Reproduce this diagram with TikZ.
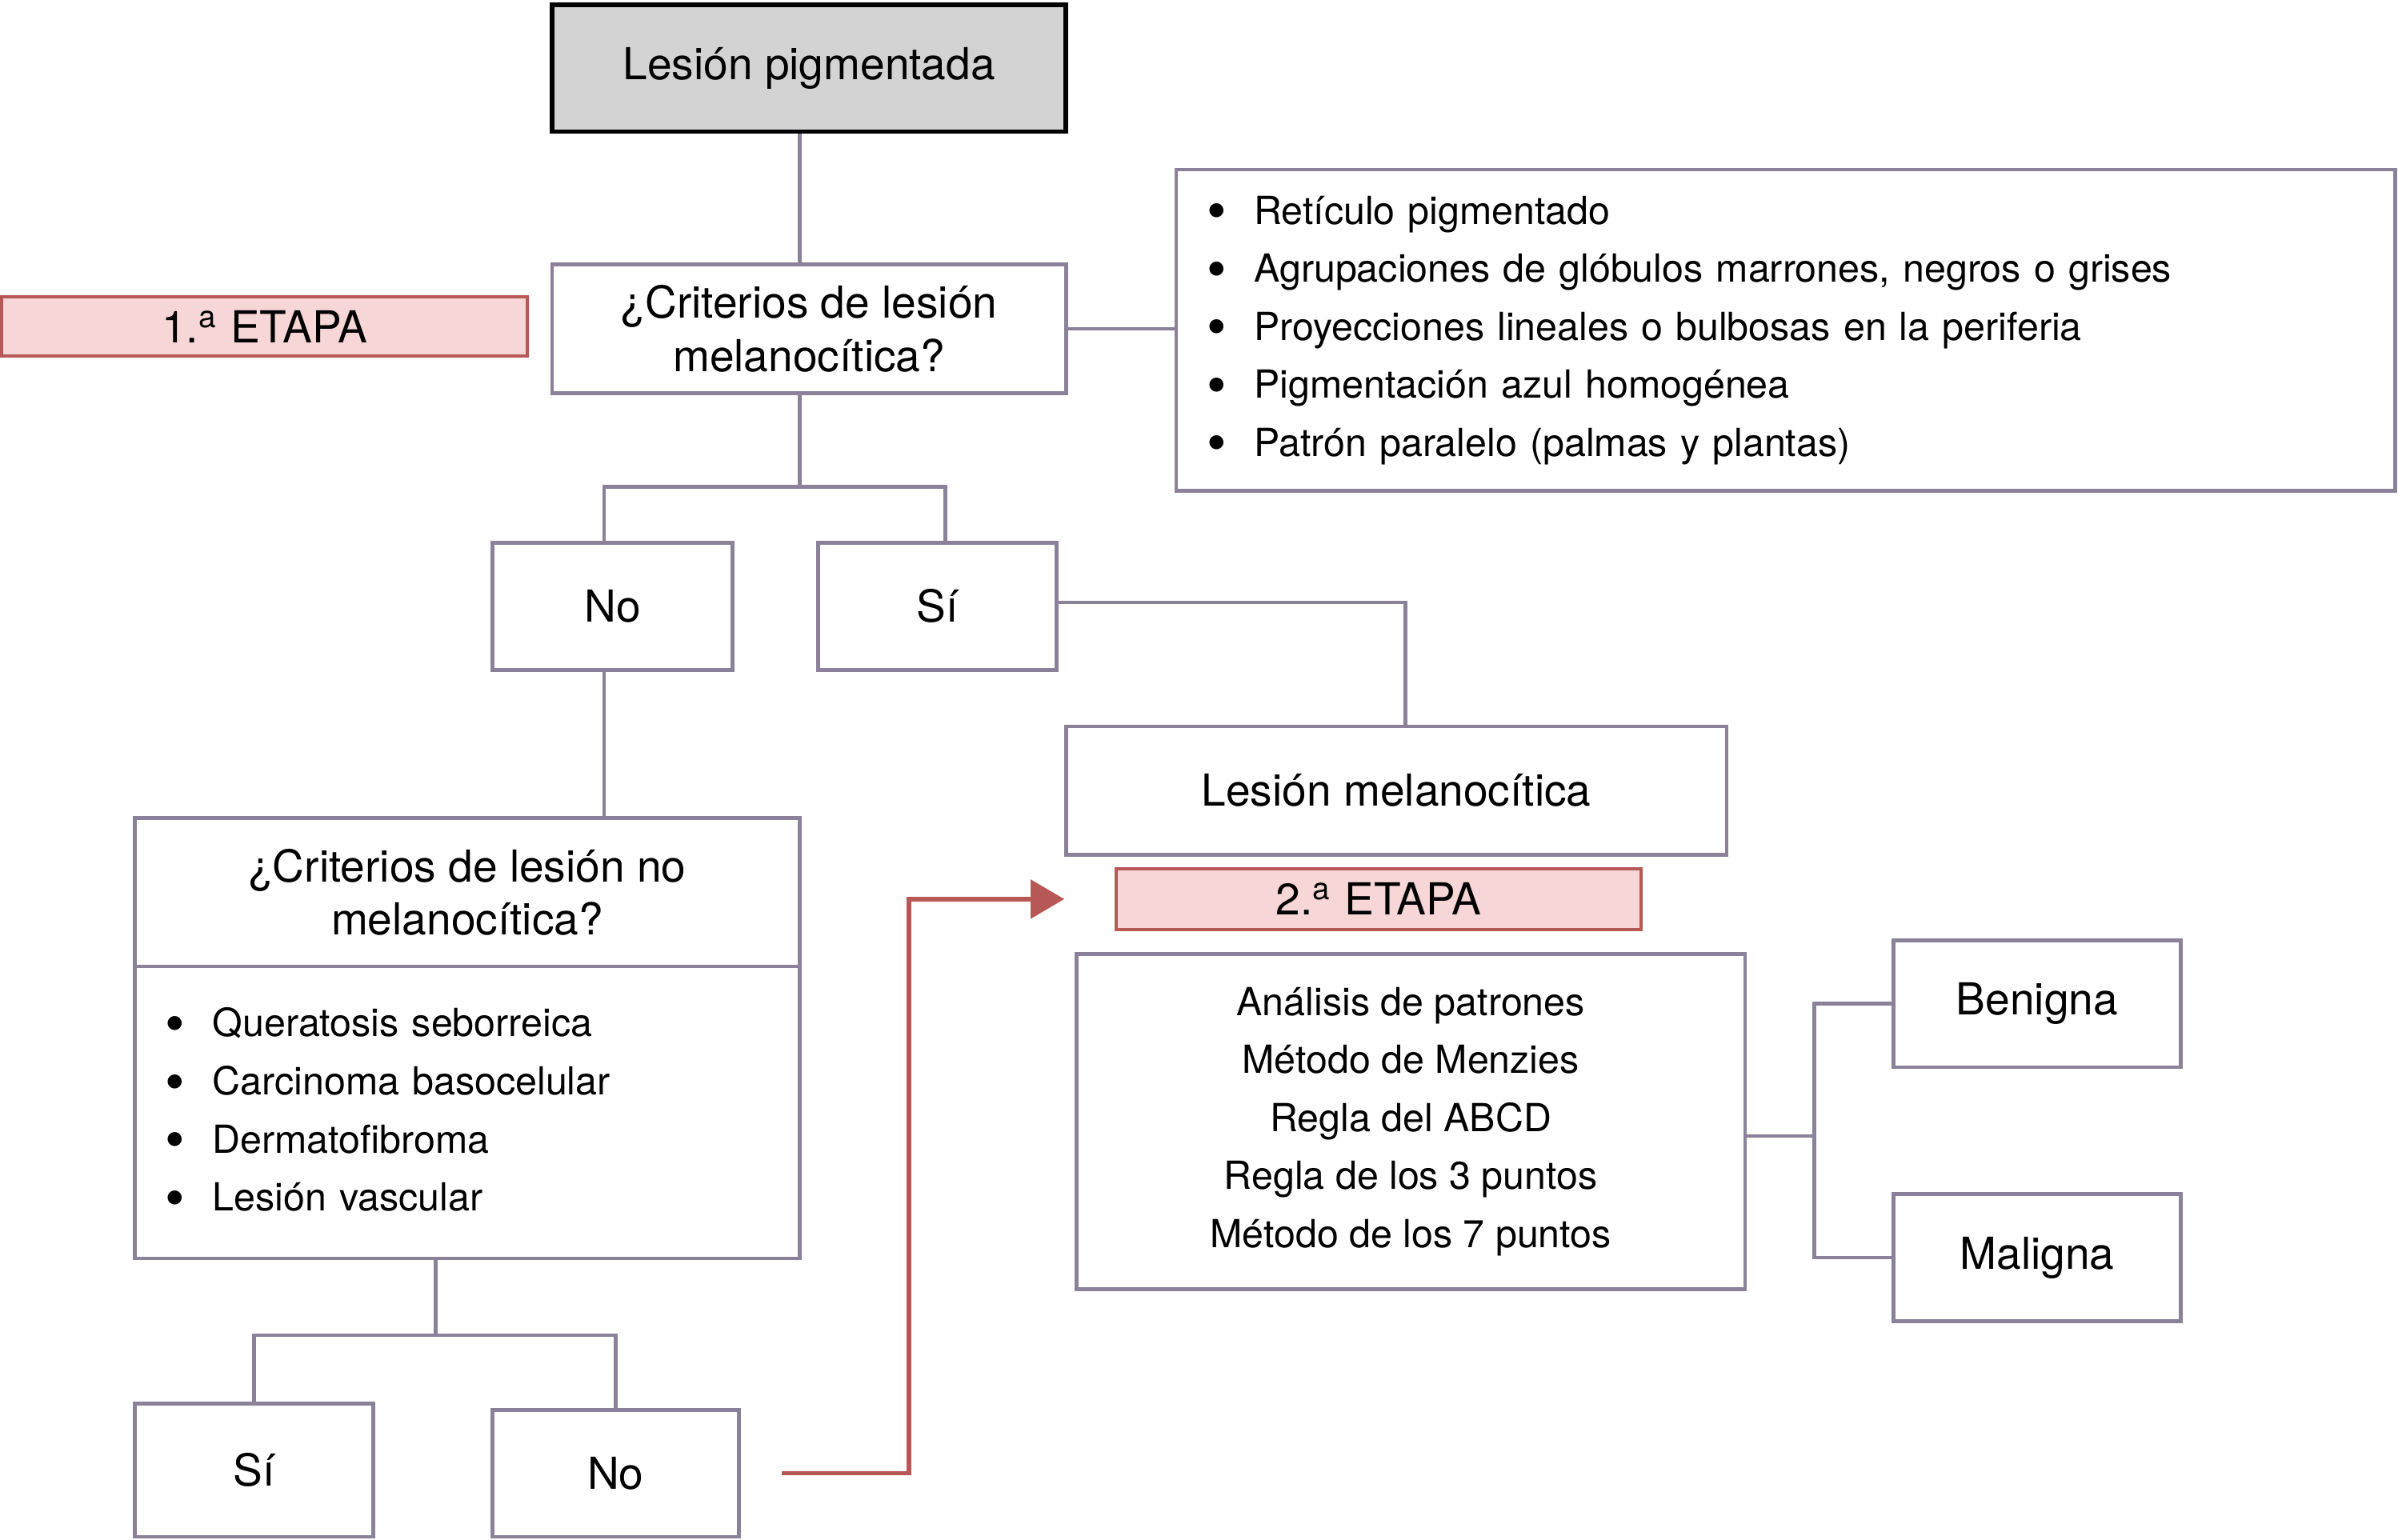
\documentclass[tikz,border=0pt]{standalone}
\usepackage{fontspec}
\setmainfont{TeX Gyre Heros}
\usetikzlibrary{arrows.meta}

\definecolor{linegray}{RGB}{139,129,153}
\definecolor{etapared}{RGB}{184,88,86}
\definecolor{etapafill}{RGB}{246,214,214}
\definecolor{pigfill}{RGB}{211,211,211}
\newcommand{\bul}{\makebox[0.31cm][l]{\raisebox{-0.3ex}{\scalebox{1.45}{\textbullet}}}}

\begin{document}
\begin{tikzpicture}[
  font=\fontsize{8.2}{10.8}\selectfont,
  caja/.style={draw=linegray, line width=0.7pt, fill=white, inner sep=0pt, align=center},
  lista/.style={caja, inner xsep=0.2cm, align=left, font=\fontsize{7.2}{10.8}\selectfont},
  etapa/.style={draw=etapared, line width=0.6pt, fill=etapafill, inner sep=0pt},
  conector/.style={linegray, line width=0.7pt},
  flecha/.style={etapared, line width=0.85pt, -{Triangle[length=0.22cm,width=0.25cm]}}
]
\useasboundingbox (0,0) rectangle (15.68,10.07);

%primera etapa
\node[draw=black, line width=0.85pt, fill=pigfill, minimum width=3.36cm, minimum height=0.83cm] (pig) at (5.29,9.625) {Lesión pigmentada};
\node[caja, minimum width=3.36cm, minimum height=0.84cm, font=\fontsize{8.2}{9.9}\selectfont] (crit) at (5.29,7.92) {¿Criterios de lesión\\melanocítica?};
\node[etapa, minimum width=3.44cm, minimum height=0.39cm] (etapa1) at (1.73,7.935) {1.\textsuperscript{a} ETAPA};
\node[lista, text width=7.57cm, minimum height=2.10cm] (criterios) at (11.675,7.91) {%
\bul Retículo pigmentado\\
\bul Agrupaciones de glóbulos marrones, negros o grises\\
\bul Proyecciones lineales o bulbosas en la periferia\\
\bul Pigmentación azul homogénea\\
\bul Patrón paralelo (palmas y plantas)};

\node[caja, minimum width=1.57cm, minimum height=0.83cm] (no1) at (4.005,6.105) {No};
\node[caja, minimum width=1.56cm, minimum height=0.83cm] (si1) at (6.13,6.105) {Sí};
\node[caja, minimum width=4.32cm, minimum height=0.84cm] (melan) at (9.13,4.90) {Lesión melanocítica};

%lesion no melanocitica
\node[caja, minimum width=4.35cm, minimum height=0.97cm, font=\fontsize{8.2}{9.7}\selectfont] (nmhead) at (3.055,4.235) {¿Criterios de lesión no\\melanocítica?};
\node[lista, text width=3.95cm, minimum height=1.91cm] (nmlist) at (3.055,2.795) {%
\bul Queratosis seborreica\\
\bul Carcinoma basocelular\\
\bul Dermatofibroma\\
\bul Lesión vascular};
\node[caja, minimum width=1.56cm, minimum height=0.87cm] (si2) at (1.66,0.455) {Sí};
\node[caja, minimum width=1.61cm, minimum height=0.83cm] (no2) at (4.025,0.435) {No};

%segunda etapa
\node[etapa, minimum width=3.43cm, minimum height=0.40cm] (etapa2) at (9.015,4.19) {2.\textsuperscript{a} ETAPA};
\node[caja, minimum width=4.37cm, minimum height=2.19cm, font=\fontsize{7.2}{10.8}\selectfont] (metodos) at (9.225,2.735) {%
Análisis de patrones\\
Método de Menzies\\
Regla del ABCD\\
Regla de los 3 puntos\\
Método de los 7 puntos};
\node[caja, minimum width=1.88cm, minimum height=0.83cm] (benigna) at (13.32,3.505) {Benigna};
\node[caja, minimum width=1.88cm, minimum height=0.83cm] (maligna) at (13.32,1.845) {Maligna};

%conectores
\draw[conector] ([xshift=-0.06cm]pig.south) -- ([xshift=-0.06cm]crit.north);
\draw[conector] (crit.east) -- (crit.east -| criterios.west);
\draw[conector] ([xshift=-0.06cm]crit.south) -- ++(0,-0.60) coordinate (bar1);
\draw[conector] ([xshift=-0.055cm]no1.north) |- (bar1) -| ([xshift=0.05cm]si1.north);
\draw[conector] ([yshift=0.025cm]si1.east) -| ([xshift=0.06cm]melan.north);
\draw[conector] ([xshift=-0.055cm]no1.south) coordinate (a) -- (a |- nmhead.north);
\draw[conector] ([xshift=-0.205cm]nmlist.south) -- ++(0,-0.49) coordinate (bar2);
\draw[conector] (si2.north) |- (bar2) -| (no2.north);
\draw[conector] ([yshift=-0.095cm]metodos.east) -- ++(0.44,0) coordinate (bar3);
\draw[conector] (benigna.west) -| (bar3) |- (maligna.west);
\draw[flecha] ([xshift=0.27cm]no2.east) -- ++(0.83,0) |- ([xshift=-0.33cm]etapa2.west);

\end{tikzpicture}
\end{document}
